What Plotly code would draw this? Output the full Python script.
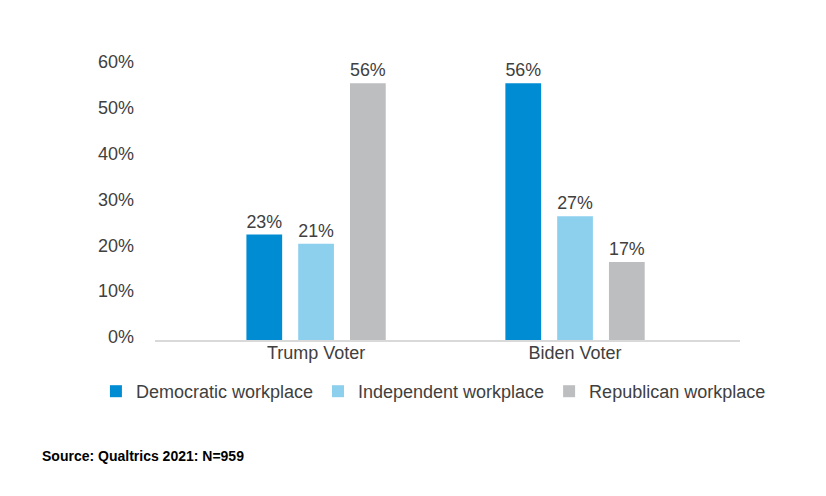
import plotly.graph_objects as go

categories = ["Trump Voter", "Biden Voter"]
series_names = ["Democratic workplace", "Independent workplace", "Republican workplace"]
democratic = [0.23, 0.56]
independent = [0.21, 0.27]
republican = [0.56, 0.17]
colors = ["#008CD2", "#8DD0EE", "#BDBEC0"]
tick_vals = [0, 0.1, 0.2, 0.3, 0.4, 0.5, 0.6]
tick_text = ["0%", "10%", "20%", "30%", "40%", "50%", "60%"]

FONT = "Liberation Sans, Arial, sans-serif"
TXT = "#404040"

fig = go.Figure()
for name, vals, col in zip(series_names, [democratic, independent, republican], colors):
    fig.add_trace(go.Bar(
        x=[0, 1], y=vals, name=name, marker=dict(color=col, line=dict(width=0)),
        text=[f"{round(v*100)}%" for v in vals], textposition="outside",
        textfont=dict(family=FONT, size=18, color=TXT), cliponaxis=False,
    ))

fig.update_layout(
    width=818, height=488,
    paper_bgcolor="white", plot_bgcolor="white",
    margin=dict(l=147, r=86, t=57, b=156, autoexpand=False),
    barmode="group", bargap=0.4, bargroupgap=0.31,
    font=dict(family=FONT, size=18, color=TXT),
    showlegend=True,
    legend=dict(orientation="h", x=-0.101, xanchor="left", y=-0.12, yanchor="top",
                font=dict(family=FONT, size=18, color=TXT), itemwidth=30,
                traceorder="normal"),
    xaxis=dict(range=[-0.622, 1.637], tickmode="array", tickvals=[0, 1], ticktext=categories,
               showline=True, linecolor="#D9D9D9", linewidth=1.5, showgrid=False,
               zeroline=False, ticks="", ticklabelstandoff=-4,
               tickfont=dict(size=18, color=TXT)),
    yaxis=dict(range=[0, 0.6], tickmode="array", tickvals=tick_vals, ticktext=tick_text,
               showgrid=False, zeroline=False, showline=False, ticks="",
               ticklabelstandoff=20, ticklabelshift=-3, tickfont=dict(size=18, color=TXT)),
)

fig.add_annotation(text="<b>Source: Qualtrics 2021: N=959</b>", xref="paper", yref="paper",
                   x=-0.1966, y=-0.4218, xanchor="left", yanchor="middle", showarrow=False,
                   font=dict(family=FONT, size=14, color="#000000"))

fig.write_html("out.html")
